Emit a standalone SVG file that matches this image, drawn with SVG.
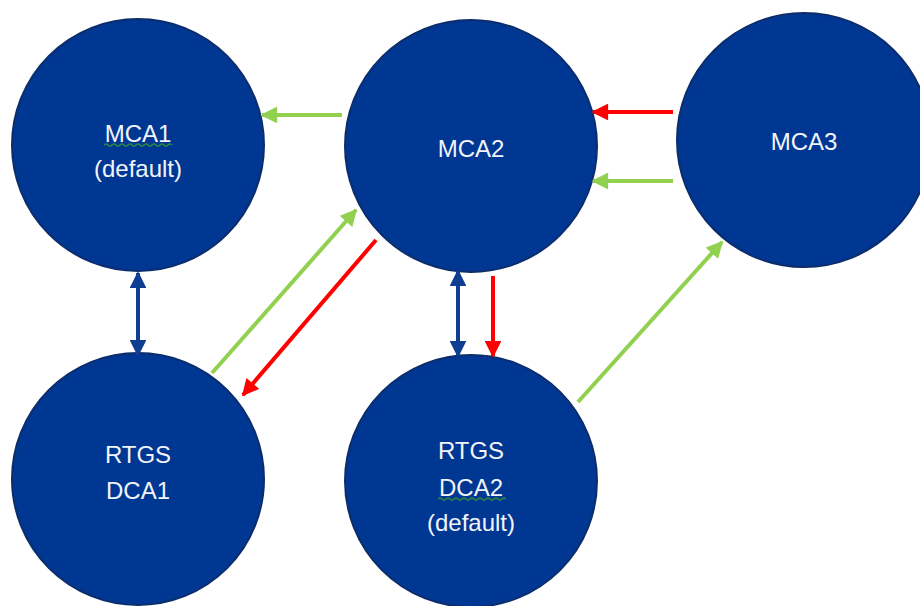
<svg xmlns="http://www.w3.org/2000/svg" width="920" height="606" viewBox="0 0 920 606">
<style>
.node circle{fill:#003793;stroke:#0c2d6b;stroke-width:2}
.node text{fill:#f2f4f8;font-family:"Liberation Sans",Arial,sans-serif;font-size:24px;text-anchor:middle}
.g{stroke:#92d050;stroke-width:4;fill:none}
.r{stroke:#ff0000;stroke-width:4;fill:none}
.b{stroke:#0f3d91;stroke-width:4;fill:none}
.sq{stroke:#2e8b3e;stroke-width:1.5;fill:none}
</style>
<defs>
<marker id="ag" viewBox="0 0 10 10" refX="9" refY="5" markerWidth="4.4" markerHeight="4.2" orient="auto" markerUnits="strokeWidth"><path d="M0,0 L10,5 L0,10 Z" fill="#92d050"/></marker>
<marker id="ar" viewBox="0 0 10 10" refX="9" refY="5" markerWidth="4.4" markerHeight="4.2" orient="auto" markerUnits="strokeWidth"><path d="M0,0 L10,5 L0,10 Z" fill="#ff0000"/></marker>
<marker id="ab" viewBox="0 0 10 10" refX="9" refY="5" markerWidth="4.4" markerHeight="4.2" orient="auto-start-reverse" markerUnits="strokeWidth"><path d="M0,0 L10,5 L0,10 Z" fill="#0f3d91"/></marker>
</defs>
<rect width="920" height="606" fill="#ffffff"/>
<g id="mca1" class="node">
<circle cx="138" cy="145" r="126"/>
<text x="138" y="142">MCA1</text>
<text x="138" y="177">(default)</text>
<path class="sq" d="M104,145 q2,-2 4,0 t4,0 t4,0 t4,0 t4,0 t4,0 t4,0 t4,0 t4,0 t4,0 t4,0 t4,0 t4,0 t4,0 t4,0 t4,0 t4,0"/>
</g>
<g id="mca2" class="node">
<circle cx="471" cy="146" r="126"/>
<text x="471" y="157">MCA2</text>
</g>
<g id="mca3" class="node">
<circle cx="804" cy="140" r="127"/>
<text x="804" y="150">MCA3</text>
</g>
<g id="dca1" class="node">
<circle cx="138" cy="479" r="126"/>
<text x="138" y="463">RTGS</text>
<text x="138" y="499">DCA1</text>
</g>
<g id="dca2" class="node">
<circle cx="471" cy="481" r="126"/>
<text x="471" y="459">RTGS</text>
<text x="471" y="496">DCA2</text>
<text x="471" y="531">(default)</text>
<path class="sq" d="M438,499 q2,-2 4,0 t4,0 t4,0 t4,0 t4,0 t4,0 t4,0 t4,0 t4,0 t4,0 t4,0 t4,0 t4,0 t4,0 t4,0 t4,0 t4,0"/>
</g>
<g id="connectors">
<line class="g" x1="342" y1="115" x2="262" y2="115" marker-end="url(#ag)"/>
<line class="r" x1="673" y1="112" x2="593" y2="112" marker-end="url(#ar)"/>
<line class="g" x1="673" y1="181" x2="593" y2="181" marker-end="url(#ag)"/>
<line class="b" x1="138" y1="273" x2="138" y2="355" marker-start="url(#ab)" marker-end="url(#ab)"/>
<line class="b" x1="458" y1="271" x2="458" y2="356" marker-start="url(#ab)" marker-end="url(#ab)"/>
<line class="r" x1="493" y1="276" x2="493" y2="356" marker-end="url(#ar)"/>
<line class="g" x1="212" y1="373" x2="356" y2="210" marker-end="url(#ag)"/>
<line class="r" x1="376" y1="240" x2="243" y2="395" marker-end="url(#ar)"/>
<line class="g" x1="578" y1="402" x2="722" y2="242" marker-end="url(#ag)"/>
</g>
</svg>
